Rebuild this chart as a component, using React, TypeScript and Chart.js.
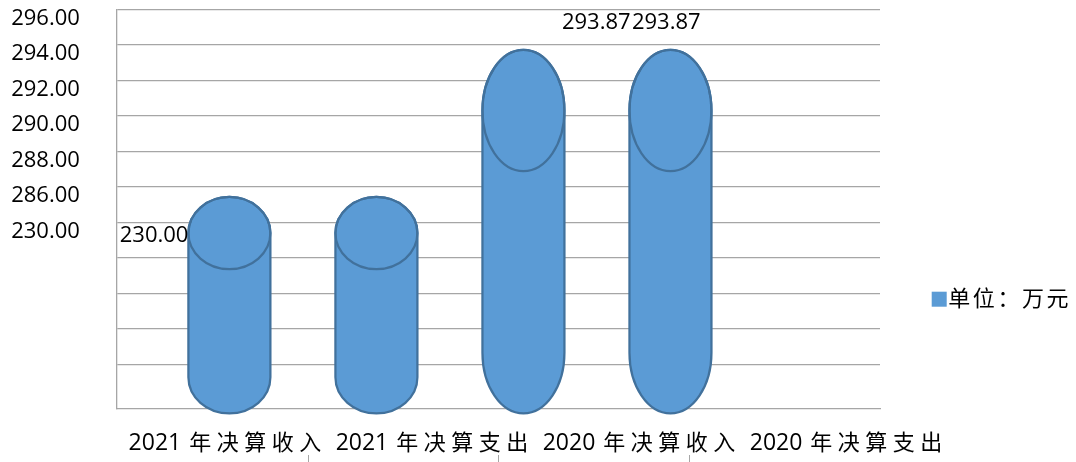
import React, { useEffect, useRef } from 'react';
import { Chart, registerables } from 'chart.js';

Chart.register(...registerables);

// ---------------- data ----------------
const CATEGORIES = ['2021 年决算收入', '2021 年决算支出', '2020 年决算收入', '2020 年决算支出'];
const SERIES_LABEL = '单位：万元';
const VALUES = [230.0, 230.0, 293.87, 293.87];
const VALUE_LABEL_SHOWN = [true, false, true, true];
const Y_TICK_LABELS = ['296.00', '294.00', '292.00', '290.00', '288.00', '286.00', '230.00'];

// ---------------- styles / layout ----------------
const FONT = '"Open Sans", "Noto Sans CJK SC", sans-serif';
const CJK_FONT = '"Noto Sans CJK SC", "Open Sans", sans-serif';
const BAR_FILL = '#5b9bd5';
const BAR_STROKE = '#41719c';
const GRID_COLOR = '#a6a6a6';
const GRID_ROWS = 11;
// where each value label sits relative to its bar (style only)
const VALUE_LABEL_PLACEMENT = [
  { anchor: 'left', dx: 0, dy: 0 },
  null,
  { anchor: 'above', dx: 38.5, dy: -21 },
  { anchor: 'above', dx: -38.5, dy: -21 },
];

const isCJK = (c: string) => /[\u3000-\u9fff\uff00-\uffef]/.test(c);

function drawSpaced(
  ctx: CanvasRenderingContext2D,
  text: string,
  cx: number,
  y: number,
  latinFont: string,
  cjkFont: string,
  cjkGap: number,
  spaceGap: number,
  align: 'center' | 'left'
) {
  const chars = Array.from(text);
  const fonts = chars.map((c) => (isCJK(c) ? cjkFont : latinFont));
  const widths = chars.map((c, k) => {
    ctx.font = fonts[k];
    return ctx.measureText(c).width;
  });
  const gaps = chars.map((c, k) => (k === chars.length - 1 ? 0 : isCJK(c) ? cjkGap : c === ' ' ? spaceGap : 0));
  const total = widths.reduce((a, w, k) => a + w + gaps[k], 0);
  let x = align === 'center' ? cx - total / 2 : cx;
  ctx.textAlign = 'left';
  chars.forEach((c, k) => {
    ctx.font = fonts[k];
    ctx.fillText(c, x, y);
    x += widths[k] + gaps[k];
  });
}

const capsulePlugin = {
  id: 'capsuleBars',
  afterDatasetsDraw(chart: any) {
    const ctx: CanvasRenderingContext2D = chart.ctx;
    const meta = chart.getDatasetMeta(0);
    const data = chart.data.datasets[0].data;
    ctx.save();
    meta.data.forEach((el: any, i: number) => {
      const p = el.getProps(['x', 'y', 'base', 'width'], true);
      const top = Math.min(p.y, p.base);
      const bottom = Math.max(p.y, p.base);
      const rx = p.width / 2;
      const ry = (bottom - top) / 6;
      ctx.beginPath();
      ctx.ellipse(p.x, top + ry, rx, ry, 0, Math.PI, 2 * Math.PI);
      ctx.lineTo(p.x + rx, bottom - ry);
      ctx.ellipse(p.x, bottom - ry, rx, ry, 0, 0, Math.PI);
      ctx.closePath();
      ctx.fillStyle = BAR_FILL;
      ctx.fill();
      ctx.lineWidth = 2.25;
      ctx.strokeStyle = BAR_STROKE;
      ctx.stroke();
      ctx.beginPath();
      ctx.ellipse(p.x, top + ry, rx, ry, 0, 0, 2 * Math.PI);
      ctx.stroke();

      const place = VALUE_LABEL_PLACEMENT[i];
      if (VALUE_LABEL_SHOWN[i] && place) {
        const text = Number(data[i].y).toFixed(2);
        ctx.font = `22px ${FONT}`;
        ctx.fillStyle = '#000';
        ctx.textBaseline = 'alphabetic';
        if (place.anchor === 'left') {
          ctx.textAlign = 'right';
          ctx.fillText(text, p.x - rx, top + ry + 8.5);
        } else {
          ctx.textAlign = 'left';
          ctx.fillText(text, p.x + place.dx, top + place.dy);
        }
      }
    });
    ctx.restore();
  },
};

const decorPlugin = {
  id: 'decor',
  afterDraw(chart: any) {
    const ctx: CanvasRenderingContext2D = chart.ctx;
    const area = chart.chartArea;
    const xs = chart.scales.x;
    ctx.save();
    // category labels with wide CJK spacing
    ctx.fillStyle = '#000';
    ctx.textBaseline = 'alphabetic';
    xs.ticks.forEach((t: any) => {
      const label = CATEGORIES[t.value];
      if (!label) return;
      drawSpaced(ctx, label, xs.getPixelForValue(t.value), area.bottom + 40.8, `23px ${FONT}`, `22px ${CJK_FONT}`, 5.5, 2, 'center');
    });
    // small category tick marks at the bottom edge
    ctx.strokeStyle = GRID_COLOR;
    ctx.lineWidth = 1;
    for (let k = 1; k < CATEGORIES.length; k++) {
      const x = Math.round(area.left + ((area.right - area.left) * k) / CATEGORIES.length) + 0.5;
      ctx.beginPath();
      ctx.moveTo(x, chart.height - 7);
      ctx.lineTo(x, chart.height);
      ctx.stroke();
    }
    // legend
    const lx = area.right + 51.7;
    const ly = 291.7;
    ctx.fillStyle = BAR_FILL;
    ctx.fillRect(lx, ly, 15, 15);
    ctx.fillStyle = '#000';
    drawSpaced(ctx, chart.data.datasets[0].label, lx + 16.5, ly + 14.5, `22px ${CJK_FONT}`, `22px ${CJK_FONT}`, 2.6, 2.6, 'left');
    ctx.restore();
  },
};

export default function App() {
  const ref = useRef<HTMLCanvasElement | null>(null);

  useEffect(() => {
    if (!ref.current) return;
    const chart = new Chart(ref.current, {
      type: 'bar',
      data: {
        datasets: [
          {
            label: SERIES_LABEL,
            data: VALUES.map((v, i) => ({ x: i, y: v })),
            xAxisID: 'xb',
            yAxisID: 'yb',
            backgroundColor: 'transparent',
            borderWidth: 0,
            barThickness: 82,
            base: 136,
            clip: false,
          } as any,
        ],
      },
      options: {
        animation: false,
        responsive: false,
        devicePixelRatio: 1,
        events: [],
        layout: { padding: { left: 11.2, top: 9.3, right: 196, bottom: 29.3 } },
        plugins: { legend: { display: false }, tooltip: { enabled: false } },
        scales: {
          x: {
            type: 'linear',
            position: 'bottom',
            min: -0.5217,
            max: 3.164,
            offset: false,
            grid: { display: false, drawTicks: false },
            border: { display: true, color: GRID_COLOR, width: 1.3 },
            ticks: {
              color: 'transparent',
              font: { family: FONT, size: 20, lineHeight: 1.2 },
              padding: 0,
              autoSkip: false,
              maxRotation: 0,
              minRotation: 0,
              callback: (v: any) => CATEGORIES[v] ?? '',
            },
            afterBuildTicks: (s: any) => {
              s.ticks = CATEGORIES.map((_, i) => ({ value: i }));
            },
          },
          y: {
            type: 'linear',
            position: 'left',
            min: -1.25,
            max: GRID_ROWS - 1,
            grid: { color: GRID_COLOR, lineWidth: 1.3, drawTicks: true, tickLength: 37, tickColor: 'transparent' },
            border: { display: true, color: GRID_COLOR, width: 1.3 },
            ticks: {
              color: '#000',
              font: { family: FONT, size: 22, lineHeight: 0.2 },
              padding: 0,
              labelOffset: 9,
              autoSkip: false,
              callback: (v: any) => Y_TICK_LABELS[GRID_ROWS - 1 - v] ?? '',
            },
            afterBuildTicks: (s: any) => {
              s.ticks = Array.from({ length: GRID_ROWS }, (_, i) => ({ value: i }));
            },
          },
          xb: { type: 'linear', display: false, position: 'bottom', min: -0.7653, max: 4.4252, offset: false },
          yb: { type: 'linear', display: false, position: 'left', min: 138.02, max: 311.55 },
        } as any,
      },
      plugins: [capsulePlugin, decorPlugin],
    });
    return () => chart.destroy();
  }, []);

  return (
    <div style={{ position: 'absolute', left: 0, top: 0, width: 1076, height: 462 }}>
      <canvas ref={ref} width={1076} height={462} style={{ display: 'block' }} />
    </div>
  );
}
